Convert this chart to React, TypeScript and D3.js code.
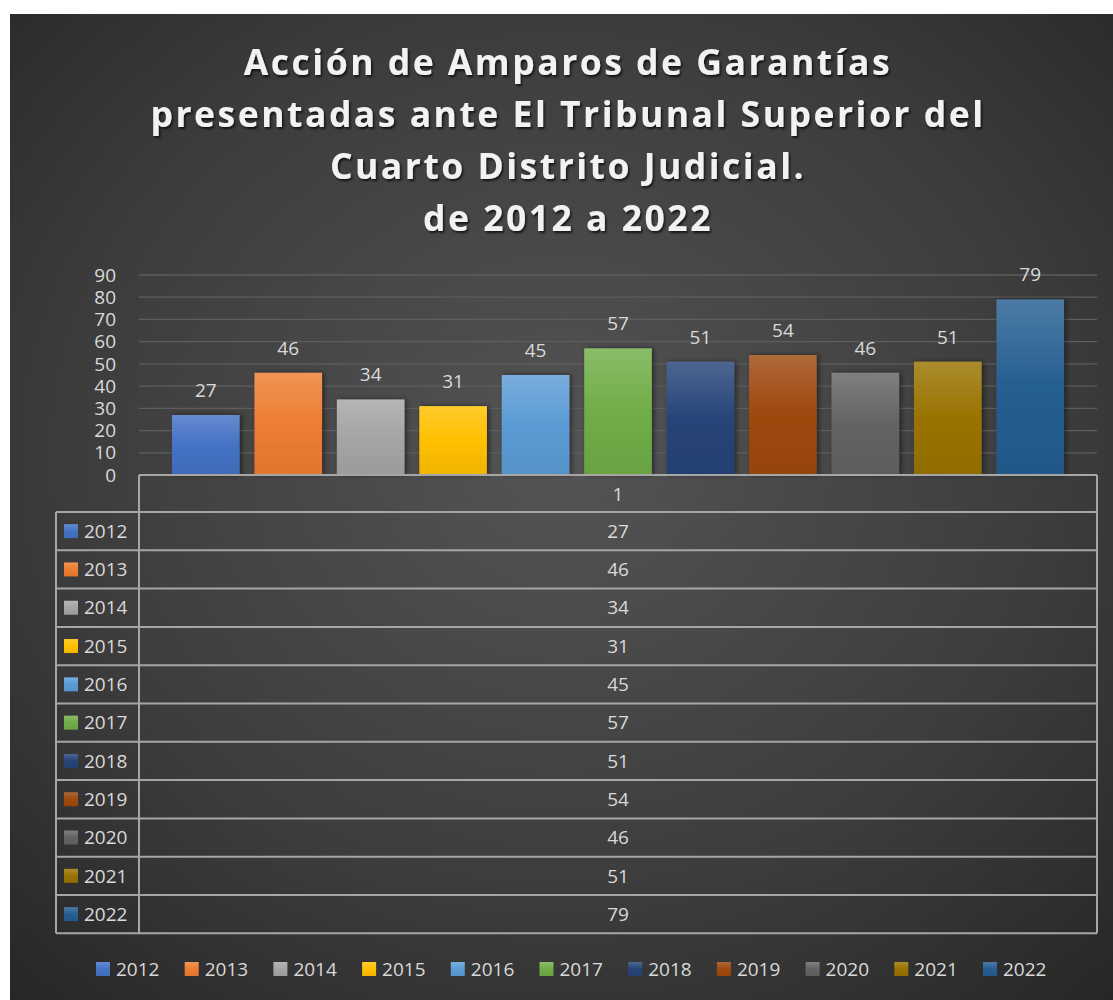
import React from "react";
import * as d3 from "d3";

const years = ["2012","2013","2014","2015","2016","2017","2018","2019","2020","2021","2022"];
const values = [27, 46, 34, 31, 45, 57, 51, 54, 46, 51, 79];
const colors = ["#4472C4","#ED7D31","#A5A5A5","#FFC000","#5B9BD5","#70AD47","#264478","#9E480E","#636363","#997300","#255E91"];
const yTicks = [0,10,20,30,40,50,60,70,80,90];
const titleLines = ["Acción de Amparos de Garantías","presentadas ante El Tribunal Superior del","Cuarto Distrito Judicial.","de 2012 a 2022"];
const categoryLabel = "1";

const W = 1113, H = 1000;
const plotL = 139, plotR = 1097, plotT = 275, plotB = 475;
const tableL = 56, headerB = 512, rowH = 38.3;
const font = "'Open Sans', 'DejaVu Sans', sans-serif";

export default function App() {
  const x = d3.scaleBand<string>().domain(years).range([plotL, plotR]).paddingInner(0.18).paddingOuter(0.4);
  const y = d3.scaleLinear().domain([0, 90]).range([plotB, plotT]);
  const tableB = headerB + rowH * years.length;
  const legendX = d3.scalePoint<string>().domain(years).range([96, 983]);
  const light = (c: string, k: number) => d3.interpolateRgb(c, "#ffffff")(k);
  const dark = (c: string, k: number) => d3.interpolateRgb(c, "#000000")(k);
  return (
    <svg width={W} height={H} style={{ position: "absolute", left: 0, top: 0 }} fontFamily={font}>
      <defs>
        <radialGradient id="bg" cx="0.5" cy="0.45" r="0.75">
          <stop offset="0" stopColor="#545454" />
          <stop offset="0.6" stopColor="#3c3c3c" />
          <stop offset="1" stopColor="#262626" />
        </radialGradient>
        {colors.map((c, i) => (
          <linearGradient key={i} id={`g${i}`} x1="0" y1="0" x2="0" y2="1">
            <stop offset="0" stopColor={light(c, 0.18)} />
            <stop offset="0.5" stopColor={c} />
            <stop offset="1" stopColor={dark(c, 0.06)} />
          </linearGradient>
        ))}
        <filter id="ts" x="-5%" y="-20%" width="110%" height="150%">
          <feDropShadow dx="1.5" dy="2" stdDeviation="1.2" floodColor="#000" floodOpacity="0.7" />
        </filter>
        <filter id="bs" x="-20%" y="-10%" width="140%" height="120%">
          <feDropShadow dx="2" dy="0" stdDeviation="2.5" floodColor="#000" floodOpacity="0.5" />
        </filter>
      </defs>
      <rect x={0} y={0} width={W} height={H} fill="#ffffff" />
      <rect x={10} y={14} width={W - 10} height={H - 14} fill="url(#bg)" />

      {titleLines.map((t, i) => (
        <text key={i} x={568} y={75 + i * 52} textAnchor="middle" fill="#f2f2f2" fontSize={35.5} fontWeight={700}
          letterSpacing={2.5} filter="url(#ts)">{t}</text>
      ))}

      {yTicks.map(t => (
        <g key={t}>
          {t > 0 && <line x1={plotL} x2={plotR} y1={y(t)} y2={y(t)} stroke="#5e5e5e" strokeWidth={1.3} />}
          <text x={116} y={y(t)} dy="0.35em" textAnchor="end" fill="#d9d9d9" fontSize={19}>{t}</text>
        </g>
      ))}

      {years.map((yr, i) => (
        <g key={yr}>
          <rect x={x(yr)} y={y(values[i])} width={x.bandwidth()} height={plotB - y(values[i])} fill={`url(#g${i})`} filter="url(#bs)" />
          <text x={(x(yr) as number) + x.bandwidth() / 2} y={y(values[i]) - 18} textAnchor="middle" fill="#d9d9d9" fontSize={19}>{values[i]}</text>
        </g>
      ))}

      {/* data table */}
      <g stroke="#a6a6a6" strokeWidth={2} fill="none">
        <line x1={plotL} x2={plotR} y1={plotB} y2={plotB} />
        <line x1={plotL} x2={plotL} y1={plotB} y2={tableB} />
        <line x1={plotR} x2={plotR} y1={plotB} y2={tableB} />
        <line x1={tableL} x2={tableL} y1={headerB} y2={tableB} />
        {d3.range(years.length + 1).map(k => (
          <line key={k} x1={tableL} x2={plotR} y1={headerB + k * rowH} y2={headerB + k * rowH} />
        ))}
      </g>
      <text x={(plotL + plotR) / 2} y={(plotB + headerB) / 2 + 1} dy="0.35em" textAnchor="middle" fill="#d9d9d9" fontSize={19}>{categoryLabel}</text>
      {years.map((yr, i) => {
        const cy = headerB + (i + 0.5) * rowH;
        return (
          <g key={yr}>
            <rect x={64} y={cy - 7} width={14} height={14} fill={`url(#g${i})`} />
            <text x={84} y={cy} dy="0.35em" fill="#d9d9d9" fontSize={19}>{yr}</text>
            <text x={(plotL + plotR) / 2} y={cy} dy="0.35em" textAnchor="middle" fill="#d9d9d9" fontSize={19}>{values[i]}</text>
          </g>
        );
      })}

      {/* legend */}
      {years.map((yr, i) => (
        <g key={yr}>
          <rect x={legendX(yr)} y={962} width={14} height={14} fill={`url(#g${i})`} />
          <text x={(legendX(yr) as number) + 20} y={969} dy="0.35em" fill="#d9d9d9" fontSize={19}>{yr}</text>
        </g>
      ))}
    </svg>
  );
}
